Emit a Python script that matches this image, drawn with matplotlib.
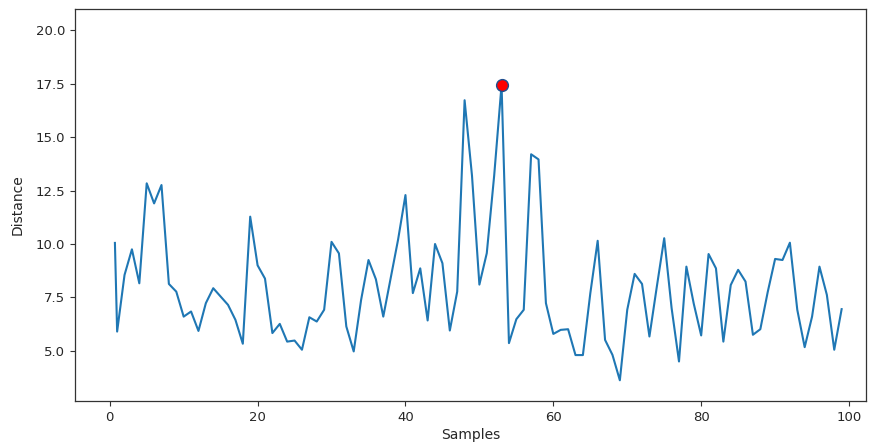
import numpy as np
import matplotlib
matplotlib.use("Agg")
import matplotlib.pyplot as plt

# Sample positions (first reading comes in just before sample 1)
samples = [0.7] + list(range(1, 100))

distance = [
    10.05, 5.90, 8.55, 9.75, 8.16, 12.84, 11.90, 12.76, 8.13, 7.77,
    6.60, 6.84, 5.93, 7.23, 7.93, 7.54, 7.15, 6.45, 5.33, 11.28,
    9.00, 8.38, 5.83, 6.26, 5.43, 5.48, 5.05, 6.57, 6.37, 6.92,
    10.10, 9.56, 6.14, 4.97, 7.38, 9.25, 8.35, 6.60, 8.40, 10.20,
    12.29, 7.70, 8.86, 6.42, 10.00, 9.10, 5.95, 7.77, 16.73, 13.20,
    8.10, 9.57, 13.20, 17.45, 5.36, 6.48, 6.92, 14.20, 13.96, 7.23,
    5.79, 5.98, 6.01, 4.80, 4.80, 7.68, 10.15, 5.51, 4.81, 3.62,
    6.92, 8.60, 8.13, 5.67, 8.00, 10.27, 7.00, 4.50, 8.94, 7.20,
    5.72, 9.53, 8.86, 5.43, 8.08, 8.79, 8.24, 5.75, 6.01, 7.75,
    9.30, 9.25, 10.06, 6.92, 5.17, 6.60, 8.94, 7.62, 5.05, 6.95,
]

x = np.array(samples, dtype=float)
y = np.array(distance, dtype=float)
peak = int(np.argmax(y))

fig = plt.figure(figsize=(8.71, 4.46), dpi=100)
ax = fig.add_axes([0.0861, 0.1009, 0.9082, 0.8789])

ax.plot(x, y, color="#1f77b4", linewidth=1.5)
ax.plot(x[peak], y[peak], marker="o", markersize=8.5,
        markerfacecolor="red", markeredgecolor="#1f4f8f", markeredgewidth=1.0,
        linestyle="none")

ax.set_xlim(-4.7, 102.3)
ax.set_ylim(2.65, 21.0)
ax.set_xticks([0, 20, 40, 60, 80, 100])
ax.set_yticks([5.0, 7.5, 10.0, 12.5, 15.0, 17.5, 20.0])
ax.set_yticklabels(["5.0", "7.5", "10.0", "12.5", "15.0", "17.5", "20.0"])
ax.tick_params(labelsize=9.5, colors="#333333", labelcolor="#262626")
for s in ax.spines.values():
    s.set_color("#333333")
    s.set_linewidth(0.9)

ax.set_xlabel("Samples", fontsize=10, color="#262626", labelpad=3)
ax.set_ylabel("Distance", fontsize=10, color="#262626", labelpad=8)

fig.savefig("out.png", dpi=100)
